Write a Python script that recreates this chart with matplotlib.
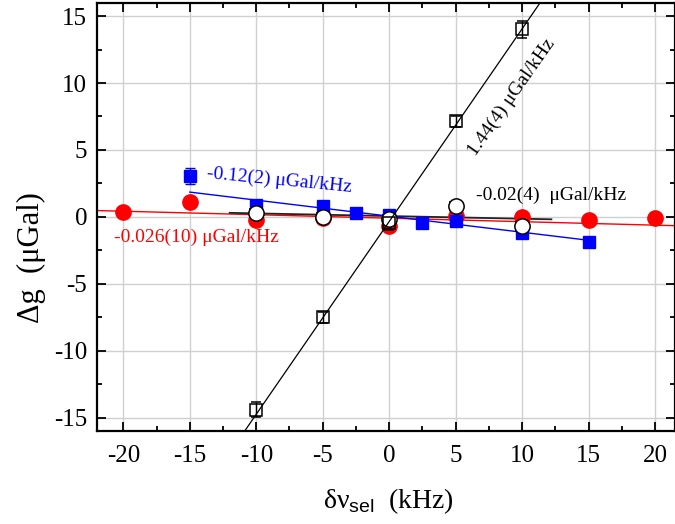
import matplotlib
matplotlib.use("Agg")
import matplotlib.pyplot as plt
import numpy as np

plt.rcParams['font.family'] = ['Liberation Serif', 'DejaVu Serif']
plt.rcParams['axes.unicode_minus'] = False
plt.rcParams['mathtext.fontset'] = 'custom'
plt.rcParams['mathtext.rm'] = 'Liberation Serif'
plt.rcParams['mathtext.sf'] = 'Liberation Sans'

# open black squares (steep series)
x_sq = [-10, -5, 0, 5, 10]
y_sq = [-14.4, -7.5, -0.45, 7.15, 14.0]
e_sq = [0.55, 0.4, 0.5, 0.4, 0.65]

# blue filled squares
x_bl = [-15, -10, -5, -2.5, 0, 2.5, 5, 10, 15]
y_bl = [3.06, 0.89, 0.84, 0.32, 0.15, -0.47, -0.30, -1.21, -1.89]
e_bl = [0.6, 0.3, 0.3, 0.2, 0.2, 0.2, 0.2, 0.3, 0.3]

# red filled circles
x_rd = [-20, -15, -10, -5, 0, 5, 10, 15, 20]
y_rd = [0.37, 1.1, -0.22, -0.1, -0.65, 0.1, -0.02, -0.22, -0.05]

# open black circles
x_ci = [-10, -5, 0, 5, 10]
y_ci = [0.28, 0.02, -0.17, 0.84, -0.72]
e_ci = [0.3, 0.3, 0.3, 0.3, 0.3]

# linear fits: slope, intercept, x range
fit_sq = (1.44, -0.35)
fit_bl = (-0.12, 0.05, -15, 15)
fit_rd = (-0.026, -0.1)
fit_ci = (-0.02, 0.06, -12, 12.2)

xlim = (-22, 21.5)
ylim = (-16, 16)

fig = plt.figure(figsize=(6.75, 5.24), dpi=100)
ax = fig.add_axes([0.1433, 0.1775, 0.8567, 0.8173])
ax.set_xlim(*xlim)
ax.set_ylim(*ylim)

ax.grid(True, color='#d0d0d0', linewidth=1.0, zorder=0)
ax.set_axisbelow(True)

# fit lines
xx = np.array(xlim)
ax.plot(xx, fit_rd[0] * xx + fit_rd[1], color='red', lw=1.0, zorder=2)
xx = np.array(fit_ci[2:])
ax.plot(xx, fit_ci[0] * xx + fit_ci[1], color='#222222', lw=1.3, zorder=2)
xx = np.array(fit_bl[2:])
ax.plot(xx, fit_bl[0] * xx + fit_bl[1], color='blue', lw=1.0, zorder=2)
xx = np.array(xlim)
ax.plot(xx, fit_sq[0] * xx + fit_sq[1], color='black', lw=0.9, zorder=6)

# points
ax.plot(x_rd, y_rd, 'o', color='red', ms=11, mec='red', zorder=3)
ax.errorbar(x_bl, y_bl, yerr=e_bl, fmt='s', color='blue', ms=9, capsize=3.5,
            elinewidth=1, capthick=1, zorder=4)
ax.errorbar(x_ci, y_ci, yerr=e_ci, fmt='o', mfc='white', mec='black', ecolor='black',
            ms=11, mew=1.1, capsize=5, elinewidth=1, capthick=1, zorder=5)
ax.errorbar(x_sq, y_sq, yerr=e_sq, fmt='s', mfc='none', mec='black', ecolor='black',
            ms=9, mew=1.1, capsize=3.5, elinewidth=1, capthick=1, zorder=5)

# annotations
ax.text(9.22, 8.96, '1.44(4) μGal/kHz', rotation=55, rotation_mode='anchor',
        ha='center', va='center', fontsize=14, color='black')
ax.text(-13.7, 3.28, '-0.12(2) μGal/kHz', rotation=-5.5, rotation_mode='anchor',
        ha='left', va='center', fontsize=14, color='blue')
ax.text(6.5, 1.64, '-0.02(4)  μGal/kHz', ha='left', va='center', fontsize=14,
        color='black')
ax.text(-20.7, -1.56, '-0.026(10) μGal/kHz', ha='left', va='center', fontsize=14,
        color='red')

ax.set_xticks([-20, -15, -10, -5, 0, 5, 10, 15, 20])
ax.set_yticks([-15, -10, -5, 0, 5, 10, 15])
ax.set_xticks(np.arange(-20, 21, 2.5), minor=True)
ax.set_yticks(np.arange(-15, 16, 2.5), minor=True)
ax.tick_params(which='both', direction='in', top=True, right=True, width=1.3,
               labelsize=18)
ax.tick_params(which='major', length=6.5)
ax.tick_params(which='minor', length=3.5)
ax.tick_params(axis='x', pad=10)
ax.tick_params(axis='y', pad=7)
for s in ax.spines.values():
    s.set_linewidth(1.6)

ax.set_xlabel(r'$\mathrm{δν}_{\mathsf{sel}}$  (kHz)', fontsize=20)
ax.set_ylabel('Δg  (μGal)', fontsize=22)
ax.xaxis.set_label_coords(0.505, -0.13)
ax.yaxis.set_label_coords(-0.087, 0.406)

fig.savefig('out.png', dpi=100)
